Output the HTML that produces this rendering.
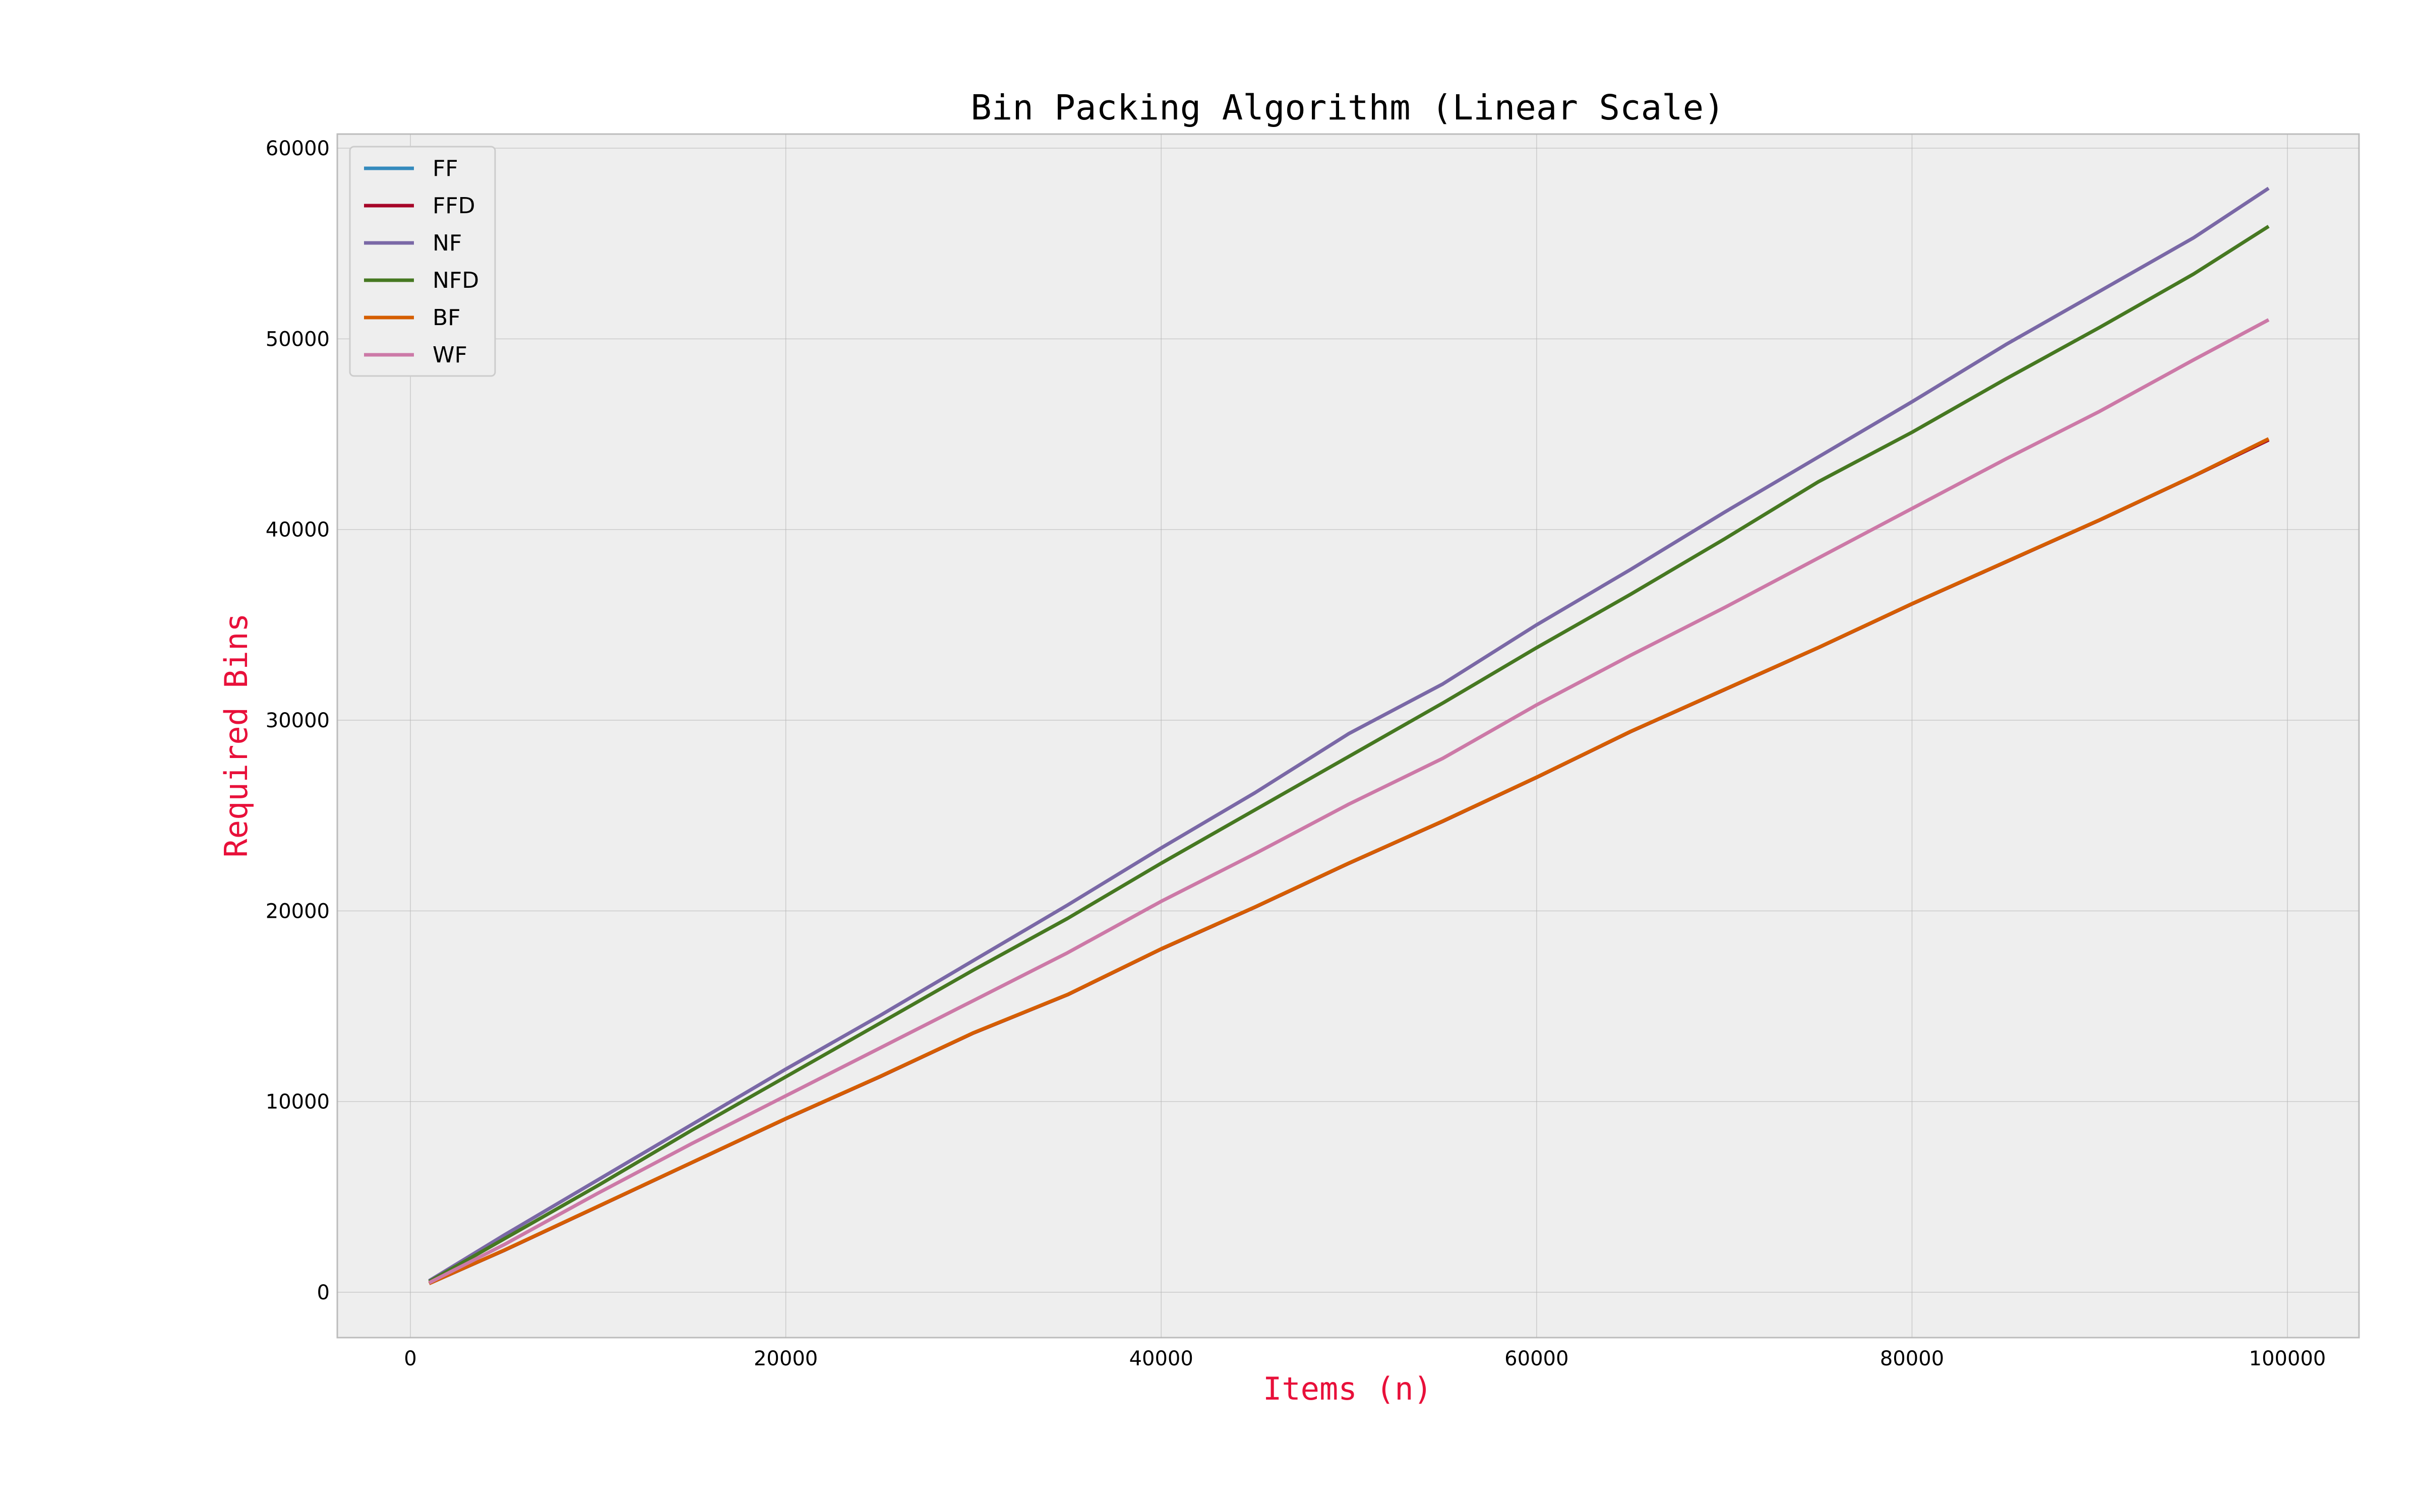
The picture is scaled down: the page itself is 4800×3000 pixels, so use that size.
<!DOCTYPE html>
<html><head><meta charset="utf-8"><style>
html,body{margin:0;padding:0;background:#fff;}
svg{display:block;}
</style></head><body>
<svg id="chart" width="4800" height="3000" viewBox="0 0 4800 3000" xmlns="http://www.w3.org/2000/svg">
<rect x="0" y="0" width="4800" height="3000" fill="#ffffff"/>
<rect x="669" y="266" width="4010" height="2388" fill="#eeeeee" stroke="#bcbcbc" stroke-width="3"/>
<g id="grid"></g>
<g id="series"></g>
<g id="ticks"></g>
<text x="2673" y="237" text-anchor="middle" font-family="'DejaVu Sans Mono','Liberation Mono',monospace" font-size="69" fill="#000">Bin Packing Algorithm (Linear Scale)</text>
<text x="2673" y="2777" text-anchor="middle" font-family="'DejaVu Sans Mono','Liberation Mono',monospace" font-size="62" fill="#e8103a">Items (n)</text>
<text transform="translate(490,1459) rotate(-90)" text-anchor="middle" font-family="'DejaVu Sans Mono','Liberation Mono',monospace" font-size="62" fill="#e8103a">Required Bins</text>
<g id="legend"></g>
</svg>
<script>
const xs = [1000,5000,10000,15000,20000,25000,30000,35000,40000,45000,50000,55000,60000,65000,70000,75000,80000,85000,90000,95000,99000];
const nfVals = [600,3000,5900,8800,11700,14500,17400,20300,23300,26200,29300,31900,35000,37900,40900,43800,46700,49700,52500,55300,57900];
const nfdVals = [560,2800,5600,8500,11300,14100,16900,19600,22500,25300,28100,30900,33800,36600,39500,42500,45100,47900,50600,53400,55900];
const wfVals = [500,2500,5200,7800,10300,12800,15300,17800,20500,23000,25600,28000,30800,33400,35900,38500,41100,43700,46200,48900,51000];
const ffVals = [460,2200,4500,6800,9100,11300,13600,15600,18000,20200,22500,24700,27000,29400,31600,33800,36100,38300,40500,42800,44700];
const ffdVals = [460,2200,4500,6800,9100,11300,13600,15600,18000,20200,22500,24700,27000,29400,31600,33800,36100,38300,40500,42800,44700];
const bfVals = [460,2210,4510,6810,9110,11310,13610,15610,18010,20210,22510,24710,27010,29410,31610,33810,36110,38310,40510,42810,44760];
const xTicks = [0,20000,40000,60000,80000,100000];
const yTicks = [0,10000,20000,30000,40000,50000,60000];
const seriesNames = ["FF","FFD","NF","NFD","BF","WF"];

const NS = "http://www.w3.org/2000/svg";
function sx(v){ return 814 + (v/100000)*(4537-814); }
function sy(v){ return 2564 - (v/60000)*(2564-294); }
function mk(tag, attrs, parent){ const e=document.createElementNS(NS,tag); for(const k in attrs) e.setAttribute(k,attrs[k]); parent.appendChild(e); return e; }

const grid=document.getElementById('grid'), ticks=document.getElementById('ticks');
xTicks.forEach(t=>{
  const l=mk('line',{x1:sx(t),x2:sx(t),y1:266,y2:2654,stroke:'#b2b2b2','stroke-width':1.5,'stroke-opacity':0.6},grid);
  
  
  const tx=mk('text',{x:sx(t),y:2709,'text-anchor':'middle','font-family':"'DejaVu Sans','Liberation Sans',sans-serif",'font-size':40,fill:'#000'},ticks);
  tx.textContent=t;
  
  
});
yTicks.forEach(t=>{
  const l=mk('line',{x1:669,x2:4679,y1:sy(t),y2:sy(t),stroke:'#b2b2b2','stroke-width':1.5,'stroke-opacity':0.6},grid);
  
  
  const tx=mk('text',{x:654,y:sy(t)+14,'text-anchor':'end','font-family':"'DejaVu Sans','Liberation Sans',sans-serif",'font-size':40,fill:'#000'},ticks);
  tx.textContent=t;
  
  
});

const colors={FF:'#348ABD',FFD:'#A60628',NF:'#7A68A6',NFD:'#467821',BF:'#D55E00',WF:'#CC79A7'};
const vals={FF:ffVals,FFD:ffdVals,NF:nfVals,NFD:nfdVals,BF:bfVals,WF:wfVals};
const series=document.getElementById('series');
seriesNames.forEach(n=>{
  const d=xs.map((x,i)=>(i?'L':'M')+sx(x).toFixed(1)+','+sy(vals[n][i]).toFixed(1)).join(' ');
  const p=mk('path',{d:d,fill:'none',stroke:colors[n],'stroke-width':7,'stroke-linejoin':'round'},series);
  
  
});

const legend=document.getElementById('legend');
const box=mk('rect',{x:694,y:291,width:288,height:455,rx:8,fill:'#eeeeee',stroke:'#cccccc','stroke-width':3},legend);


seriesNames.forEach((n,i)=>{
  const y=334+i*74;
  const l=mk('line',{x1:722,x2:821,y1:y,y2:y,stroke:colors[n],'stroke-width':7},legend);
  
  
  const t=mk('text',{x:858,y:y+15,'font-family':"'DejaVu Sans','Liberation Sans',sans-serif",'font-size':44,fill:'#000'},legend);
  t.textContent=n;
  
  
});
</script>
</body></html>
